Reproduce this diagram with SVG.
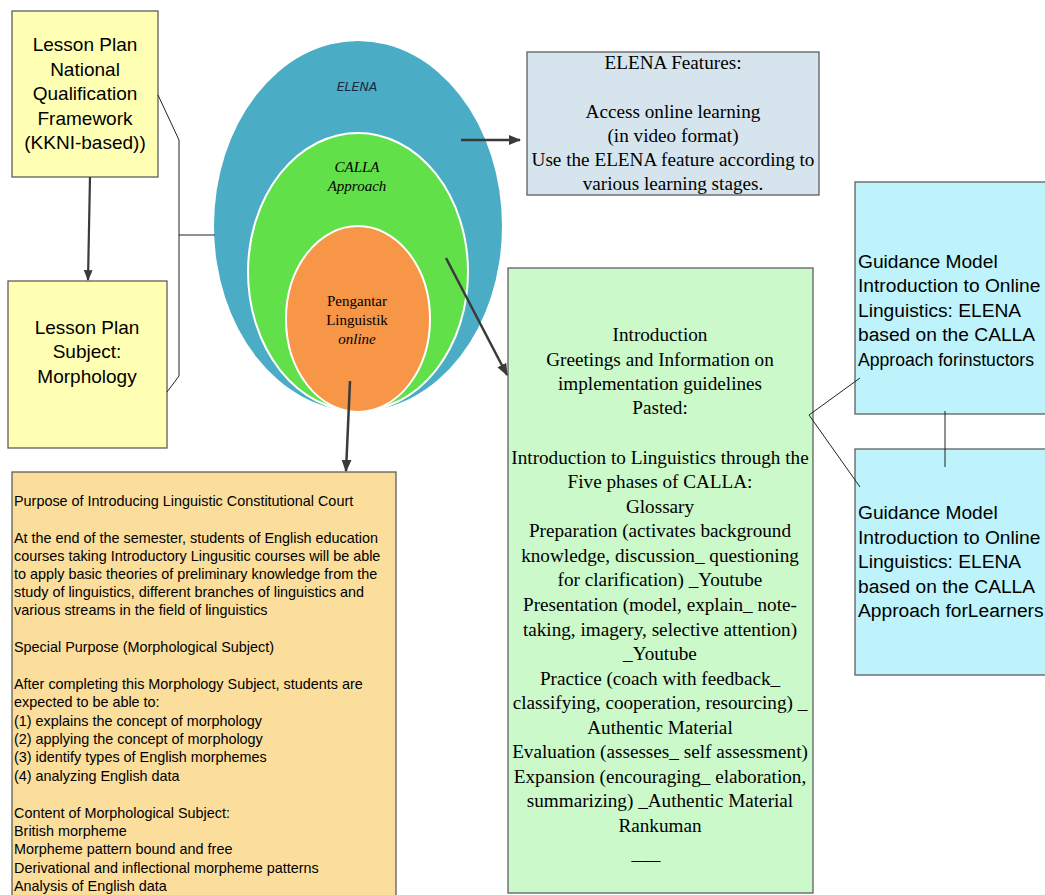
<svg xmlns="http://www.w3.org/2000/svg" width="1045" height="895" viewBox="0 0 1045 895">
<style>
.box{stroke:#5f5f5f;stroke-width:1.3}
.sans{font-family:"Liberation Sans",Arial,sans-serif;fill:#000}
.serif{font-family:"Liberation Serif","Times New Roman",serif;fill:#000}
.big{font-size:19px;text-anchor:middle}
.ser18{font-size:19.2px;text-anchor:middle}
.cy{font-size:19.2px}
.small{font-size:14.4px}
.con{stroke:#3a3a3a;fill:none}
.thin{stroke:#222;stroke-width:1;fill:none}
</style>
<defs>
<marker id="ah" viewBox="0 0 10 10" refX="9" refY="5" markerWidth="5" markerHeight="5" orient="auto" markerUnits="strokeWidth">
<path d="M0,1 L10,5 L0,9 z" fill="#3a3a3a"/>
</marker>
</defs>
<rect width="1045" height="895" fill="#fff"/>

<g id="lesson-plan-kkni">
<rect class="box" x="12" y="11" width="146" height="166" fill="#FFFFB3"/>
<text class="sans big" x="85" y="51">Lesson Plan</text>
<text class="sans big" x="85" y="76">National</text>
<text class="sans big" x="85" y="100">Qualification</text>
<text class="sans big" x="85" y="125">Framework</text>
<text class="sans big" x="85" y="149">(KKNI-based))</text>
</g>

<g id="lesson-plan-subject">
<rect class="box" x="8" y="281" width="159" height="167" fill="#FFFFB3"/>
<text class="sans big" x="87" y="334">Lesson Plan</text>
<text class="sans big" x="87" y="358">Subject:</text>
<text class="sans big" x="87" y="383">Morphology</text>
</g>

<g id="nested-ellipses">
<ellipse cx="358" cy="226" rx="144" ry="185" fill="#4BACC6"/>
<ellipse cx="358" cy="272" rx="110" ry="139" fill="#61E04A" stroke="#fff" stroke-width="2"/>
<ellipse cx="358" cy="319" rx="72" ry="93" fill="#F79646" stroke="#fff" stroke-width="2"/>
<text x="357" y="91" font-family="'DejaVu Sans',sans-serif" font-style="italic" font-size="12.5" text-anchor="middle" fill="#1a2a44">ELENA</text>
<text class="serif" x="357" y="172" font-style="italic" font-size="15" text-anchor="middle">CALLA</text>
<text class="serif" x="357" y="191" font-style="italic" font-size="15" text-anchor="middle">Approach</text>
<text class="serif" x="357" y="306" font-size="15" text-anchor="middle">Pengantar</text>
<text class="serif" x="357" y="325" font-size="15" text-anchor="middle">Linguistik</text>
<text class="serif" x="357" y="344" font-style="italic" font-size="15" text-anchor="middle">online</text>
</g>

<g id="elena-features">
<rect class="box" x="527" y="52" width="292" height="143" fill="#D6E4ED"/>
<text class="serif ser18" x="673" y="69">ELENA Features:</text>
<text class="serif ser18" x="673" y="118">Access online learning</text>
<text class="serif ser18" x="673" y="142">(in video format)</text>
<text class="serif ser18" x="673" y="166">Use the ELENA feature according to</text>
<text class="serif ser18" x="673" y="190">various learning stages.</text>
</g>

<g id="calla-phases">
<rect class="box" x="508" y="268" width="305" height="625" fill="#CCF9CA"/>
<g class="serif ser18">
<text x="660" y="341">Introduction</text>
<text x="660" y="366">Greetings and Information on</text>
<text x="660" y="390">implementation guidelines</text>
<text x="660" y="414">Pasted:</text>
<text x="660" y="464">Introduction to Linguistics through the</text>
<text x="660" y="488">Five phases of CALLA:</text>
<text x="660" y="513">Glossary</text>
<text x="660" y="537">Preparation (activates background</text>
<text x="660" y="562">knowledge, discussion_ questioning</text>
<text x="660" y="586">for clarification) _Youtube</text>
<text x="660" y="611">Presentation (model, explain_ note-</text>
<text x="660" y="636">taking, imagery, selective attention)</text>
<text x="660" y="660">_Youtube</text>
<text x="660" y="685">Practice (coach with feedback_</text>
<text x="660" y="709">classifying, cooperation, resourcing) _</text>
<text x="660" y="734">Authentic Material</text>
<text x="660" y="758">Evaluation (assesses_ self assessment)</text>
<text x="660" y="783">Expansion (encouraging_ elaboration,</text>
<text x="660" y="807">summarizing) _Authentic Material</text>
<text x="660" y="832">Rankuman</text>
<text x="646" y="860">___</text>
</g>
</g>

<g id="guidance-instructors">
<rect class="box" x="855" y="182" width="200" height="232" fill="#BEF3FC"/>
<g class="sans cy">
<text x="858" y="268">Guidance Model</text>
<text x="858" y="292">Introduction to Online</text>
<text x="858" y="317">Linguistics: ELENA</text>
<text x="858" y="341">based on the CALLA</text>
<text x="858" y="366" font-size="17.6">Approach forinstuctors</text>
</g>
</g>

<g id="guidance-learners">
<rect class="box" x="855" y="449" width="200" height="226" fill="#BEF3FC"/>
<g class="sans cy">
<text x="858" y="519">Guidance Model</text>
<text x="858" y="544">Introduction to Online</text>
<text x="858" y="568">Linguistics: ELENA</text>
<text x="858" y="593">based on the CALLA</text>
<text x="858" y="617">Approach forLearners</text>
</g>
</g>

<g id="purpose">
<rect class="box" x="12" y="472" width="384" height="440" fill="#FBDE9C"/>
<g class="sans small">
<text x="14" y="506">Purpose of Introducing Linguistic Constitutional Court</text>
<text x="14" y="543">At the end of the semester, students of English education</text>
<text x="14" y="561">courses taking Introductory Lingusitic courses will be able</text>
<text x="14" y="579">to apply basic theories of preliminary knowledge from the</text>
<text x="14" y="597">study of linguistics, different branches of linguistics and</text>
<text x="14" y="615">various streams in the field of linguistics</text>
<text x="14" y="652">Special Purpose (Morphological Subject)</text>
<text x="14" y="689">After completing this Morphology Subject, students are</text>
<text x="14" y="707">expected to be able to:</text>
<text x="14" y="726">(1) explains the concept of morphology</text>
<text x="14" y="744">(2) applying the concept of morphology</text>
<text x="14" y="762">(3) identify types of English morphemes</text>
<text x="14" y="781">(4) analyzing English data</text>
<text x="14" y="818">Content of Morphological Subject:</text>
<text x="14" y="836">British morpheme</text>
<text x="14" y="854">Morpheme pattern bound and free</text>
<text x="14" y="873">Derivational and inflectional morpheme patterns</text>
<text x="14" y="891">Analysis of English data</text>
</g>
</g>

<g id="connectors">
<line class="con" x1="90" y1="177" x2="88" y2="280" stroke-width="2.2" marker-end="url(#ah)"/>
<polyline class="thin" points="158,95 179,140 179,376 167,392"/>
<line class="thin" x1="179" y1="235" x2="215" y2="235"/>
<line class="con" x1="461" y1="140" x2="520" y2="140" stroke-width="2.5" marker-end="url(#ah)"/>
<line class="con" x1="446" y1="258" x2="507" y2="375" stroke-width="2.5" marker-end="url(#ah)"/>
<line class="con" x1="350" y1="381" x2="346" y2="471" stroke-width="2.5" marker-end="url(#ah)"/>
<polyline class="thin" points="860,378 809,415 860,487"/>
<line class="thin" x1="945" y1="411" x2="945" y2="467"/>
</g>
</svg>
